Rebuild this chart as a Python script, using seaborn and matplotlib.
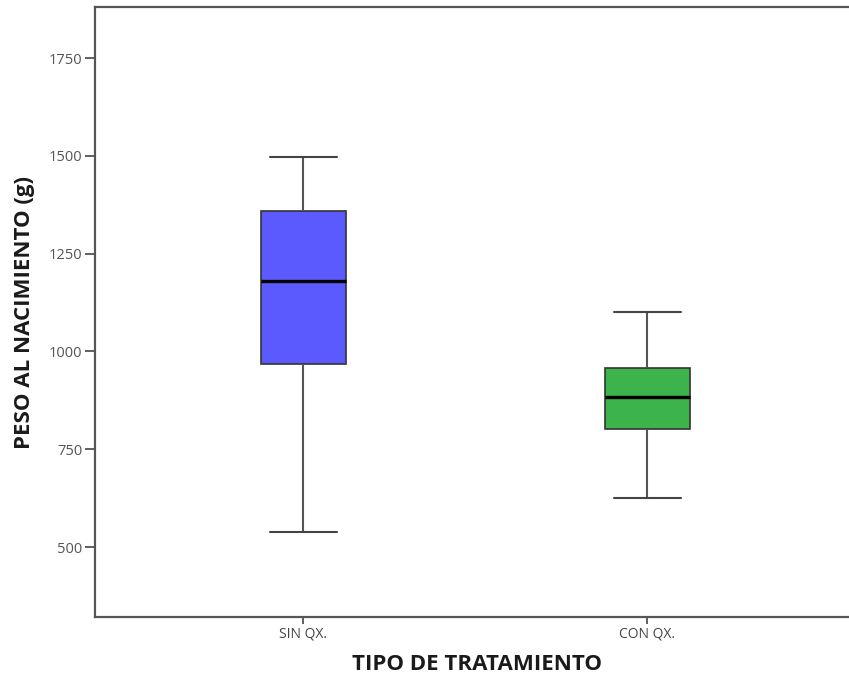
import matplotlib
matplotlib.use("Agg")
import matplotlib.pyplot as plt
import seaborn as sns
import pandas as pd
import numpy as np

# Five-number summaries (min, Q1, median, Q3, max)
categories = ["SIN QX.", "CON QX."]
sin_qx = [538, 969, 1181, 1359, 1497]
con_qx = [625, 803, 885, 959, 1100]
yticks = [500, 750, 1000, 1250, 1500, 1750]
colors = ["#5a5aff", "#3cb44b"]

df = pd.DataFrame({
    "tipo": [categories[0]] * len(sin_qx) + [categories[1]] * len(con_qx),
    "peso": sin_qx + con_qx,
})

sns.set_style("white")
plt.rcParams["font.family"] = ["Open Sans", "DejaVu Sans"]

fig = plt.figure(figsize=(8.49, 6.79), dpi=100)
ax = fig.add_axes([0.112, 0.091, 0.90, 0.8985])

sns.boxplot(data=df, x="tipo", y="peso", hue="tipo", palette=colors,
            order=categories, whis=(0, 100), width=0.247, ax=ax,
            saturation=1, linecolor="#333333", linewidth=1.3, legend=False,
            medianprops=dict(color="black", linewidth=2.4),
            whiskerprops=dict(color="#555555", linewidth=1.5),
            capprops=dict(color="#444444", linewidth=1.5),
            boxprops=dict(edgecolor="#333333", linewidth=1.2))

# widen whisker caps to match the reference
for line in ax.lines:
    xd = np.asarray(line.get_xdata(), dtype=float)
    yd = np.asarray(line.get_ydata(), dtype=float)
    if len(xd) == 2 and yd[0] == yd[1] and xd[0] != xd[1]:
        c = xd.mean()
        half = (xd[1] - xd[0]) / 2
        if abs(half) < 0.09:
            s = 0.195 / abs(half) / 2
            line.set_xdata([c - half * s, c + half * s])

ax.set_xlim(-0.605, 1.616)
ax.set_ylim(321, 1880)
ax.set_yticks(yticks)
ax.set_yticklabels([str(v) for v in yticks])

ax.tick_params(axis="y", direction="out", length=7, width=1.2,
               color="#444444", labelcolor="#555555", labelsize=10.5,
               left=True, pad=2)
ax.tick_params(axis="x", direction="out", length=5, width=1.2,
               color="#444444", labelcolor="#444444", labelsize=10,
               bottom=True, pad=2)

for side in ["left", "bottom", "top"]:
    ax.spines[side].set_color("#555555")
    ax.spines[side].set_linewidth(1.6)
ax.spines["right"].set_visible(False)

ax.set_xlabel("TIPO DE TRATAMIENTO", fontsize=16, fontweight="bold",
              color="#1a1a1a", labelpad=9)
ax.set_ylabel("PESO AL NACIMIENTO (g)", fontsize=16, fontweight="bold",
              color="#1a1a1a", labelpad=10)

fig.savefig("out.png", dpi=100, facecolor="white")
